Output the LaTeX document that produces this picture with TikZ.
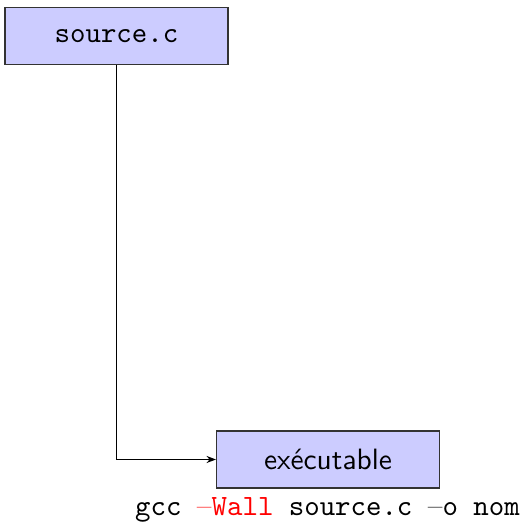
\documentclass[tikz,border=0pt]{standalone}
\usepackage{fontspec}
\usetikzlibrary{arrows.meta}
\tikzset{
  filebox/.style={draw=black!80, fill=blue!20, thin, minimum width=75.8pt,
    minimum height=19.4pt, inner sep=0pt},
  flow/.style={thin, -{Stealth[length=3.2pt, width=2.4pt]}}
}
\newcommand{\optdash}{\textrm{–}}
\begin{document}
\begin{tikzpicture}[x=0.34pt, y=-0.34pt]
  % canvas
  \useasboundingbox (0,0) rectangle (527,523);
  % source file and compiled program
  \node[filebox, font=\ttfamily] (src) at (116.5,35.8) {source.c};
  \node[filebox, font=\sffamily] (exe) at (328,459.5) {exécutable};
  % compilation command
  \node[font=\ttfamily, inner sep=0pt, anchor=base] (cmd) at (327.5,516)
    {gcc \textcolor{red}{\optdash Wall} source.c \optdash o nom};
  % compilation path
  \draw[flow] (src.south) |- (exe.west);
\end{tikzpicture}
\end{document}
